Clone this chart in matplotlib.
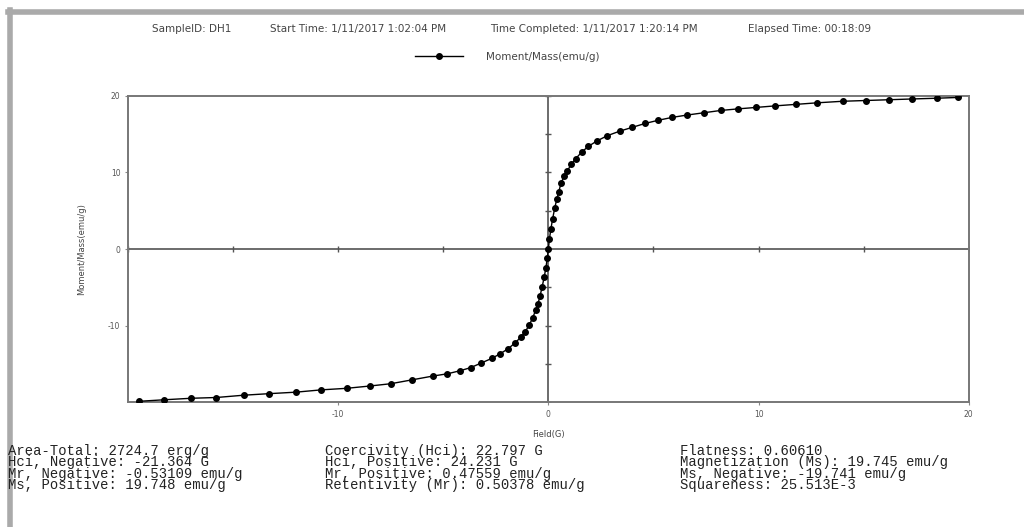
import numpy as np
import matplotlib
matplotlib.use("Agg")
import matplotlib.pyplot as plt
from matplotlib.lines import Line2D

plt.rcParams["axes.unicode_minus"] = False

# Data
field = [-19.5, -18.3, -17.0, -15.8, -14.5, -13.3, -12.0, -10.8, -9.6, -8.5,
         -7.5, -6.5, -5.5, -4.8, -4.2, -3.7, -3.2, -2.7, -2.3, -1.9,
         -1.6, -1.3, -1.1, -0.9, -0.75, -0.6, -0.5, -0.4, -0.3, -0.2,
         -0.12, -0.05, 0.0, 0.05, 0.12, 0.2, 0.3, 0.4, 0.5, 0.6,
         0.75, 0.9, 1.1, 1.3, 1.6, 1.9, 2.3, 2.8, 3.4, 4.0,
         4.6, 5.2, 5.9, 6.6, 7.4, 8.2, 9.0, 9.9, 10.8, 11.8,
         12.8, 14.0, 15.1, 16.2, 17.3, 18.5, 19.5]
moment = [-19.9, -19.7, -19.5, -19.4, -19.1, -18.9, -18.7, -18.4, -18.2, -17.9,
          -17.6, -17.1, -16.6, -16.3, -15.9, -15.5, -14.9, -14.3, -13.7, -13.0,
          -12.3, -11.5, -10.8, -9.9, -9.0, -8.0, -7.2, -6.2, -5.0, -3.7,
          -2.5, -1.2, 0.0, 1.3, 2.6, 3.9, 5.3, 6.5, 7.5, 8.6,
          9.5, 10.2, 11.1, 11.8, 12.7, 13.4, 14.1, 14.8, 15.4, 15.9,
          16.4, 16.8, 17.2, 17.5, 17.8, 18.1, 18.3, 18.5, 18.7, 18.9,
          19.1, 19.3, 19.4, 19.5, 19.6, 19.7, 19.8]

x_ticks = [-10, 0, 10, 20]
y_ticks = [-10, 0, 10, 20]

header_parts = ["SampleID: DH1",
                "Start Time: 1/11/2017 1:02:04 PM",
                "Time Completed: 1/11/2017 1:20:14 PM",
                "Elapsed Time: 00:18:09"]

col1 = ["Area-Total: 2724.7 erg/g",
        "Hci, Negative: -21.364 G",
        "Mr, Negative: -0.53109 emu/g",
        "Ms, Positive: 19.748 emu/g"]
col2 = ["Coercivity (Hci): 22.797 G",
        "Hci, Positive: 24.231 G",
        "Mr, Positive: 0.47559 emu/g",
        "Retentivity (Mr): 0.50378 emu/g"]
col3 = ["Flatness: 0.60610",
        "Magnetization (Ms): 19.745 emu/g",
        "Ms, Negative: -19.741 emu/g",
        "Squareness: 25.513E-3"]

fig = plt.figure(figsize=(10.24, 5.27), dpi=100)
ax = fig.add_axes([0.125, 0.237, 0.821, 0.581])

# window frame (gray bars top / left)
fig.add_artist(Line2D([8 / 1024, 1], [1 - 12 / 527] * 2, color="#aaaaaa", lw=4))
fig.add_artist(Line2D([10 / 1024] * 2, [0, 1 - 10 / 527], color="#aaaaaa", lw=4))

ax.plot(field, moment, color="black", lw=1, marker="o", markersize=4,
        label="Moment/Mass(emu/g)", zorder=3)

ax.axhline(0, color="#444444", lw=1.1, zorder=2)
ax.axvline(0, color="#444444", lw=1.1, zorder=2)

# small marks along the centre lines
marks = np.arange(-20, 25, 5)
ax.plot(marks, np.zeros_like(marks), ls="none", marker="|", color="#555555",
        markersize=5, zorder=2)
ax.plot(np.zeros_like(marks), marks, ls="none", marker="_", color="#555555",
        markersize=5, zorder=2)

ax.set_xlim(-20, 20)
ax.set_ylim(-20, 20)
ax.set_xticks(x_ticks)
ax.set_yticks(y_ticks)
ax.tick_params(labelsize=5.5, labelcolor="#555555", length=2, color="#888888")
for s in ax.spines.values():
    s.set_color("#777777")
    s.set_linewidth(1.4)

ax.set_xlabel("Field(G)", fontsize=6, color="#444444")
ax.set_ylabel("Moment/Mass(emu/g)", fontsize=6, color="#444444")
ax.xaxis.set_label_coords(0.5, -0.092)
ax.yaxis.set_label_coords(-0.05, 0.5)

for xpos, part in zip([152, 270, 490, 748], header_parts):
    fig.text(xpos / 1024, 1 - 29 / 527, part, fontsize=7.5, color="#444444",
             ha="left", va="center")
fig.legend(loc="center left", bbox_to_anchor=(415 / 1024, 1 - 57 / 527),
           frameon=False, fontsize=7.5, handlelength=4.6, handletextpad=2.2,
           borderpad=0, borderaxespad=0, labelcolor="#444444")

for xpos, col in zip([8, 325, 680], [col1, col2, col3]):
    fig.text(xpos / 1024, 1 - 444 / 527, "\n".join(col), family="Liberation Mono",
             fontsize=10, color="#222222", ha="left", va="top", linespacing=0.76)

fig.savefig("out.png", dpi=100)
